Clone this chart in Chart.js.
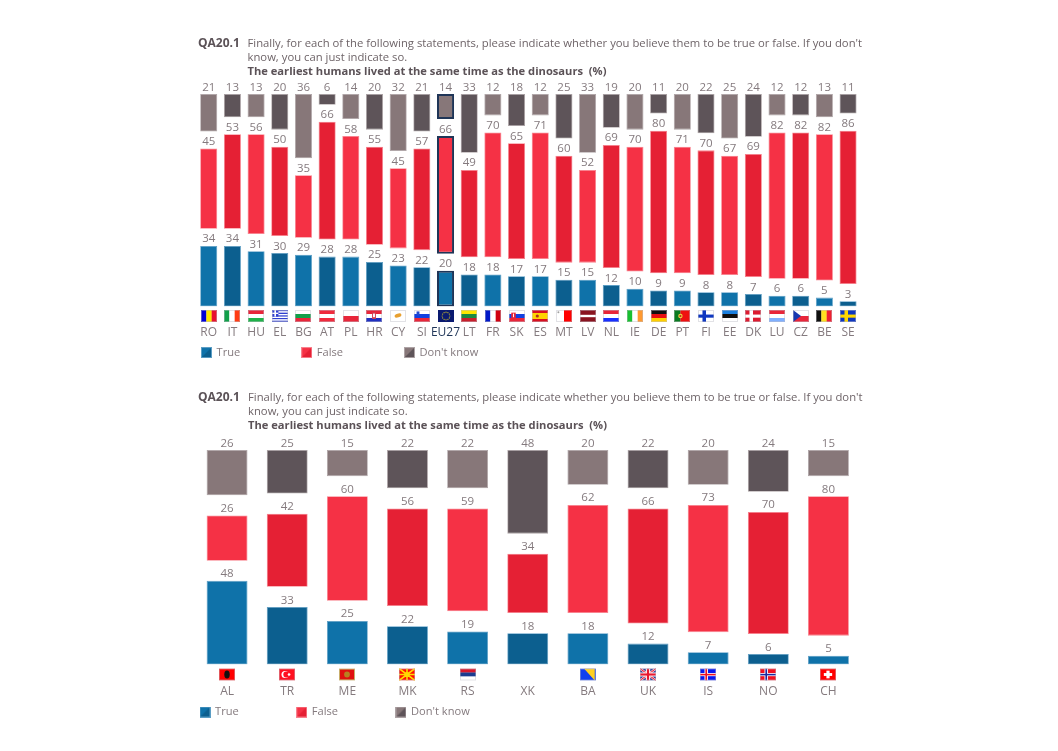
<!DOCTYPE html>
<html><head><meta charset="utf-8">
<script src="https://cdn.jsdelivr.net/npm/chart.js@4"></script>
<style>
html,body{margin:0;padding:0;background:#fff;width:1058px;height:751px;overflow:hidden}
canvas{position:absolute;filter:blur(.3px)}
.t{position:absolute;left:0;top:0;font-family:"Open Sans",sans-serif;color:#6e6468;font-size:11.29px;white-space:nowrap;line-height:14px;filter:blur(.25px)}
.t b{color:#5b5257;font-weight:700;font-size:11.17px}
.t b.q{font-size:12px}
</style></head><body>
<div class="t" style="left:198px;top:36px"><b class="q">QA20.1</b></div>
<div class="t" style="left:247.5px;top:36px">Finally, for each of the following statements, please indicate whether you believe them to be true or false. If you don't<br>know, you can just indicate so.<br><b>The earliest humans lived at the same time as the dinosaurs&nbsp; (%)</b></div>
<div class="t" style="left:198px;top:390px"><b class="q">QA20.1</b></div>
<div class="t" style="left:248px;top:390px">Finally, for each of the following statements, please indicate whether you believe them to be true or false. If you don't<br>know, you can just indicate so.<br><b>The earliest humans lived at the same time as the dinosaurs&nbsp; (%)</b></div>
<canvas id="c1" style="left:100px;top:75px"></canvas>
<canvas id="c2" style="left:100px;top:430px"></canvas>
<script>
const categoriesEU = ["RO","IT","HU","EL","BG","AT","PL","HR","CY","SI","EU27","LT","FR","SK","ES","MT","LV","NL","IE","DE","PT","FI","EE","DK","LU","CZ","BE","SE"];
const trueEU  = [34,34,31,30,29,28,28,25,23,22,20,18,18,17,17,15,15,12,10,9,9,8,8,7,6,6,5,3];
const falseEU = [45,53,56,50,35,66,58,55,45,57,66,49,70,65,71,60,52,69,70,80,71,70,67,69,82,82,82,86];
const dkEU    = [21,13,13,20,36,6,14,20,32,21,14,33,12,18,12,25,33,19,20,11,20,22,25,24,12,12,13,11];

const categoriesOther = ["AL","TR","ME","MK","RS","XK","BA","UK","IS","NO","CH"];
const trueOther  = [48,33,25,22,19,18,18,12,7,6,5];
const falseOther = [26,42,60,56,59,34,62,66,73,70,80];
const dkOther    = [26,25,15,22,22,48,20,22,20,24,15];

const seriesNames = ["True","False","Don't know"];
const palette = [
  {light:"#0f72a9",dark:"#0c5f8f",edge:"#5b9dc4"},
  {light:"#f53145",dark:"#e52034",edge:"#f8818d"},
  {light:"#877779",dark:"#5e5459",edge:"#ada3a5"}
];
const NAVY="#1f3557", TXT="#847a7e";

// ---- flags ----
function stripes(c,x,y,w,h,dir,cols,weights){
  const tot=(weights||cols.map(()=>1)).reduce((a,b)=>a+b,0);let p=0;
  cols.forEach((col,i)=>{const k=(weights?weights[i]:1)/tot;c.fillStyle=col;
    if(dir==="h")c.fillRect(x,y+p*h,w,k*h+.2);else c.fillRect(x+p*w,y,k*w+.2,h);p+=k;});
}
function cross(c,x,y,w,h,bg,col,inner){
  c.fillStyle=bg;c.fillRect(x,y,w,h);
  c.fillStyle=col;c.fillRect(x+w*.28,y,w*.22,h);c.fillRect(x,y+h*.38,w,h*.26);
  if(inner){c.fillStyle=inner;c.fillRect(x+w*.34,y,w*.1,h);c.fillRect(x,y+h*.45,w,h*.12);}
}
const stripeFlags={
  RO:["v",["#0000d8","#ffe600","#e8112d"]],IT:["v",["#12a04a","#ffffff","#ff3c14"]],HU:["h",["#e8263a","#ffffff","#20b24a"]],
  BG:["h",["#ffffff","#12a04a","#e8263a"]],AT:["h",["#ef2b3d","#ffffff","#ef2b3d"]],PL:["h",["#ffffff","#e8263a"]],
  HR:["h",["#e8263a","#ffffff","#2030c0"]],SI:["h",["#ffffff","#1040e0","#e8263a"]],LT:["h",["#ffe600","#1c8a40","#c8202c"]],
  FR:["v",["#0018c8","#ffffff","#d00010"]],SK:["h",["#ffffff","#1040e0","#e8263a"]],ES:["h",["#d81020","#ffd400","#d81020"],[1,2,1]],
  MT:["v",["#ffffff","#ff0000"]],LV:["h",["#8a1420","#ffffff","#8a1420"],[2,1,2]],NL:["h",["#e8263a","#ffffff","#1830ff"]],
  IE:["v",["#18c030","#ffffff","#ff9a30"]],DE:["h",["#101010","#e81010","#ffcf00"]],PT:["v",["#0a7a20","#ef1010"],[2,3]],
  EE:["h",["#1a80e0","#101010","#ffffff"]],LU:["h",["#e8263a","#ffffff","#80b0ff"]],CZ:["h",["#ffffff","#e8263a"]],
  BE:["v",["#101010","#ffe020","#ef2030"]],RS:["h",["#d8182c","#1c3c90","#ffffff"]]
};
function drawFlag(c,code,x,y,w,h){
  c.save();
  c.beginPath();c.rect(x,y,w,h);c.clip();
  const s=stripeFlags[code];
  if(s)stripes(c,x,y,w,h,s[0],s[1],s[2]);
  const dot=(dx,dy,r,col)=>{c.fillStyle=col;c.beginPath();c.arc(x+dx,y+dy,r,0,7);c.fill();};
  switch(code){
    case"EL":stripes(c,x,y,w,h,"h",["#3040d0","#fff","#3040d0","#fff","#3040d0","#fff","#3040d0","#fff","#3040d0"]);
      c.fillStyle="#3040d0";c.fillRect(x,y,w*.4,h*.55);c.fillStyle="#fff";c.fillRect(x,y+h*.22,w*.4,h*.11);c.fillRect(x+w*.15,y,w*.1,h*.55);break;
    case"HR":c.fillStyle="#d04050";c.fillRect(x+w*.38,y+h*.2,w*.24,h*.55);c.fillStyle="#fff";c.fillRect(x+w*.44,y+h*.3,w*.12,h*.3);break;
    case"CY":c.fillStyle="#fff";c.fillRect(x,y,w,h);c.fillStyle="#e8a030";c.beginPath();c.ellipse(x+w*.5,y+h*.46,w*.22,h*.16,-.3,0,7);c.fill();break;
    case"SI":c.fillStyle="#2048d0";c.fillRect(x+w*.16,y+h*.12,w*.18,h*.35);break;
    case"SK":c.fillStyle="#e8263a";c.fillRect(x+w*.14,y+h*.22,w*.28,h*.52);c.fillStyle="#fff";c.fillRect(x+w*.25,y+h*.3,w*.06,h*.3);break;
    case"EU27":c.fillStyle="#0a1a70";c.fillRect(x,y,w,h);for(let i=0;i<12;i++){const a=i*Math.PI/6;dot(w/2+Math.cos(a)*h*.32,h/2+Math.sin(a)*h*.32,.55,"#e8d020");}break;
    case"ES":dot(w*.33,h*.5,1.6,"#b03020");break;
    case"MT":dot(w*.15,h*.18,1,"#a0a0a0");break;
    case"PT":dot(w*.4,h*.5,2.2,"#e8d040");dot(w*.4,h*.5,1.1,"#c02020");break;
    case"FI":cross(c,x,y,w,h,"#fff","#1038c0");break;
    case"DK":cross(c,x,y,w,h,"#dc1c30","#fff");break;
    case"SE":cross(c,x,y,w,h,"#1038c0","#ffd800");break;
    case"CZ":c.fillStyle="#1838b0";c.beginPath();c.moveTo(x,y);c.lineTo(x+w*.5,y+h/2);c.lineTo(x,y+h);c.fill();break;
    case"AL":c.fillStyle="#ff0000";c.fillRect(x,y,w,h);c.fillStyle="#101010";c.beginPath();c.ellipse(x+w/2,y+h/2,w*.17,h*.34,0,0,7);c.fill();break;
    case"TR":c.fillStyle="#ff1020";c.fillRect(x,y,w,h);dot(w*.38,h/2,h*.3,"#fff");dot(w*.45,h/2,h*.24,"#ff1020");dot(w*.63,h/2,h*.11,"#fff");break;
    case"ME":c.fillStyle="#d0a020";c.fillRect(x,y,w,h);c.fillStyle="#e01010";c.fillRect(x+1,y+1,w-2,h-2);dot(w/2,h/2,h*.24,"#b88020");break;
    case"MK":c.fillStyle="#ff1000";c.fillRect(x,y,w,h);c.strokeStyle="#ffd800";c.lineWidth=1.6;c.beginPath();
      [[0,0],[w,h],[w,0],[0,h],[w/2,0],[w/2,h],[0,h/2],[w,h/2]].forEach(p=>{c.moveTo(x+w/2,y+h/2);c.lineTo(x+p[0],y+p[1]);});c.stroke();dot(w/2,h/2,h*.2,"#ffd800");break;
    case"BA":c.fillStyle="#1040f0";c.fillRect(x,y,w,h);c.fillStyle="#ffd020";c.beginPath();c.moveTo(x+w*.25,y);c.lineTo(x+w*.92,y);c.lineTo(x+w*.92,y+h);c.fill();break;
    case"UK":c.fillStyle="#1a2a90";c.fillRect(x,y,w,h);c.strokeStyle="#f8c0c8";c.lineWidth=2.4;c.beginPath();c.moveTo(x,y);c.lineTo(x+w,y+h);c.moveTo(x+w,y);c.lineTo(x,y+h);c.stroke();
      c.strokeStyle="#e81830";c.lineWidth=1;c.stroke();c.fillStyle="#fff";c.fillRect(x+w*.36,y,w*.28,h);c.fillRect(x,y+h*.33,w,h*.34);c.fillStyle="#e81830";c.fillRect(x+w*.43,y,w*.14,h);c.fillRect(x,y+h*.41,w,h*.18);break;
    case"IS":cross(c,x,y,w,h,"#0818f0","#f8f0f8","#f01020");break;
    case"NO":cross(c,x,y,w,h,"#f01020","#f8f0f8","#1828a0");break;
    case"CH":c.fillStyle="#ff0000";c.fillRect(x,y,w,h);c.fillStyle="#fff";c.fillRect(x+w*.4,y+h*.18,w*.2,h*.64);c.fillRect(x+w*.24,y+h*.38,w*.52,h*.24);break;
  }
  c.restore();
  if(code!=="EU27"){c.strokeStyle="rgba(190,190,200,.45)";c.lineWidth=1;c.strokeRect(x+.5,y+.5,w-1,h-1);}
}

function swatch(p){
  const cv=document.createElement("canvas");cv.width=11;cv.height=11;const c=cv.getContext("2d");
  c.fillStyle=p.light;c.fillRect(0,0,11,11);
  c.fillStyle=p.dark;c.beginPath();c.moveTo(11,0);c.lineTo(11,11);c.lineTo(0,11);c.fill();
  c.strokeStyle=p.edge;c.strokeRect(.5,.5,10,10);
  return cv;
}

const labelsAndFlags={
  id:"labelsAndFlags",
  afterLayout(chart,args,o){ chart.legend.left=o.legendLeft; chart.legend.top=o.legendTop; },
  afterDatasetsDraw(chart,args,o){
    const c=chart.ctx;
    c.save();
    c.font='11.5px "Open Sans"';c.textAlign="center";c.textBaseline="alphabetic";c.fillStyle=TXT;
    chart.data.datasets.forEach((ds,di)=>{
      if(ds.spacer)return;
      const meta=chart.getDatasetMeta(di);
      meta.data.forEach((el,i)=>c.fillText(String(ds.data[i]),el.x,el.y-3.5));
    });
    c.restore();
    const sx=chart.scales.x;
    chart.data.labels.forEach((code,i)=>{
      if(code==="XK")return;
      drawFlag(c,code,Math.round(sx.getPixelForTick(i)-8),o.flagTop,16,12);
    });
  }
};

function buildChart(id,W,H,cats,tv,fv,dv,o){
  const el=document.getElementById(id);el.width=W;el.height=H;
  el.style.width=W+"px";el.style.height=H+"px";
  const spacer=cats.map(()=>o.gap);
  const ds=(name,data,p,order)=>({label:name,data,stack:"s",
    backgroundColor:cats.map((_,i)=>i%2?p.dark:p.light),
    borderColor:cats.map((c,i)=>c==="EU27"?NAVY:p.edge),
    borderWidth:cats.map(c=>c==="EU27"?2:0.8),
    borderSkipped:false,barPercentage:o.bar,categoryPercentage:1,order});
  const gapDs=()=>({label:"",data:spacer,stack:"s",spacer:true,backgroundColor:"rgba(0,0,0,0)",borderWidth:0,barPercentage:o.bar,categoryPercentage:1});
  return new Chart(el,{
    type:"bar",
    plugins:[labelsAndFlags],
    data:{labels:cats,datasets:[ds(seriesNames[0],tv,palette[0]),gapDs(),ds(seriesNames[1],fv,palette[1]),gapDs(),ds(seriesNames[2],dv,palette[2])]},
    options:{
      responsive:false,animation:false,devicePixelRatio:1,
      layout:{padding:o.padding},
      scales:{
        x:{stacked:true,grid:{display:false},border:{display:false},
          ticks:{autoSkip:false,maxRotation:0,minRotation:0,padding:o.tickPad,color:c=>cats[c.index]==="EU27"?NAVY:TXT,font:{family:"Open Sans",size:12}}},
        y:{stacked:true,display:false,min:0,max:100+2*o.gap}
      },
      plugins:{
        tooltip:{enabled:false},title:{display:false},
        labelsAndFlags:{flagTop:o.flagTop,legendLeft:o.legendLeft,legendTop:o.legendTop},
        legend:{display:true,position:"bottom",align:"start",
          labels:{usePointStyle:true,boxWidth:9,boxHeight:11,pointStyleWidth:9,padding:o.legendPad,color:TXT,font:{family:"Open Sans",size:11.1},
            generateLabels:()=>seriesNames.map((n,i)=>({text:n,pointStyle:swatch(palette[i]),fontColor:TXT,datasetIndex:i*2,hidden:false,lineWidth:0}))}}
      }
    }
  });
}

buildChart("c1",770,295,categoriesEU,trueEU,falseEU,dkEU,{
  gap:9.6,bar:.72,tickPad:11,flagTop:235,legendPad:62,legendLeft:40,legendTop:210,
  padding:{left:96.9,right:10.1,top:19,bottom:-64}
});
buildChart("c2",770,300,categoriesOther,trueOther,falseOther,dkOther,{
  gap:11.56,bar:.68,tickPad:12,flagTop:238.5,legendPad:58.5,legendLeft:42,legendTop:218,
  padding:{left:97,right:11.5,top:20,bottom:-60.5}
});
</script>
</body></html>
